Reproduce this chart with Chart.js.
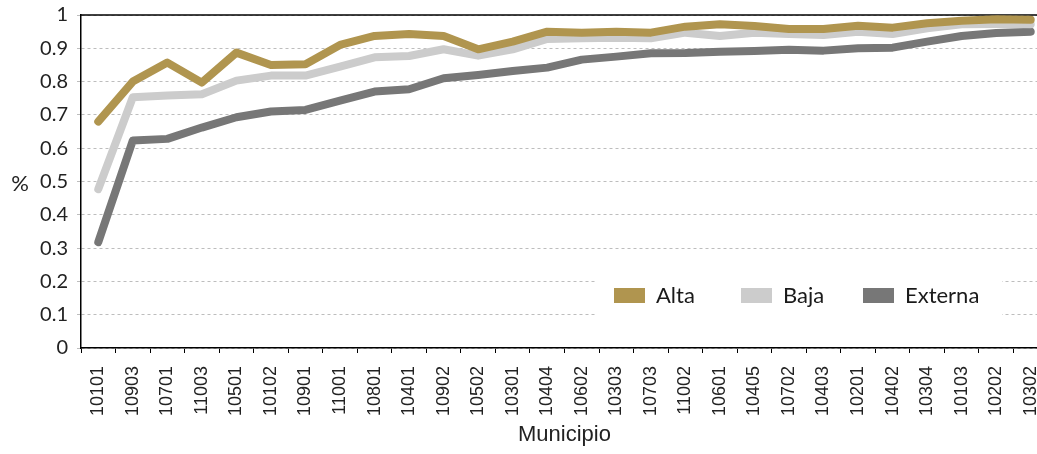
<!DOCTYPE html>
<html>
<head>
<meta charset="utf-8">
<script src="https://cdn.jsdelivr.net/npm/chart.js@4"></script>
<style>
  html, body { margin: 0; padding: 0; background: #fff; overflow: hidden; width: 1037px; height: 454px; }
  #contenedor { width: 1048px; height: 454px; }
</style>
</head>
<body>
<div id="contenedor"><canvas id="grafico"></canvas></div>
<script>
// Municipios ordenados de menor a mayor
const municipios = ['10101', '10903', '10701', '11003', '10501', '10102', '10901', '11001', '10801', '10401',
    '10902', '10502', '10301', '10404', '10602', '10303', '10703', '11002', '10601', '10405',
    '10702', '10403', '10201', '10402', '10304', '10103', '10202', '10302'];

const alta = [0.68, 0.80, 0.857, 0.797, 0.887, 0.85, 0.852, 0.91, 0.937, 0.943,
    0.937, 0.897, 0.92, 0.95, 0.947, 0.95, 0.947, 0.965, 0.972, 0.967,
    0.958, 0.958, 0.968, 0.962, 0.975, 0.983, 0.987, 0.986];

const baja = [0.477, 0.753, 0.758, 0.762, 0.803, 0.818, 0.818, 0.845, 0.873, 0.877,
    0.897, 0.878, 0.897, 0.928, 0.93, 0.932, 0.93, 0.947, 0.937, 0.947,
    0.943, 0.94, 0.95, 0.943, 0.96, 0.972, 0.973, 0.972];

const externa = [0.318, 0.623, 0.628, 0.662, 0.693, 0.71, 0.715, 0.743, 0.77, 0.777,
    0.81, 0.82, 0.832, 0.842, 0.866, 0.875, 0.885, 0.886, 0.89, 0.892,
    0.896, 0.893, 0.9, 0.902, 0.92, 0.937, 0.946, 0.95];

const colores = ['#b0954f', '#cccccc', '#777777'];
const series = ['Alta', 'Baja', 'Externa'];

const fuenteClara = 'Lato';
const fuenteEjes = 'Liberation Sans';

function serie(label, data, color) {
    return {
        label: label,
        data: data,
        borderColor: color,
        backgroundColor: color,
        borderWidth: 8,
        pointRadius: 0,
        tension: 0,
        borderCapStyle: 'round',
        borderJoinStyle: 'round'
    };
}

// sin márgenes extra por las etiquetas de los extremos
function sinRelleno(scale) {
    scale.paddingLeft = 0;
    scale.paddingRight = 0;
    scale.paddingTop = 0;
    scale.paddingBottom = 0;
}

// Borde superior, leyenda con fondo blanco y el "%" del eje
const extras = {
    id: 'extras',
    beforeDatasetsDraw(chart) {
        const { ctx, chartArea } = chart;
        ctx.save();
        // línea superior del marco
        ctx.strokeStyle = '#000';
        ctx.lineWidth = 1.5;
        ctx.beginPath();
        ctx.moveTo(chartArea.left, chartArea.top);
        ctx.lineTo(chartArea.right, chartArea.top);
        ctx.stroke();

        // caja de la leyenda
        const base = chartArea.bottom;
        ctx.fillStyle = '#fff';
        ctx.fillRect(chartArea.left + 514, base - 90, 407, 78);

        const posiciones = [533, 660, 782];
        ctx.font = '22px ' + fuenteClara;
        ctx.textBaseline = 'middle';
        ctx.textAlign = 'left';
        chart.data.datasets.forEach((ds, i) => {
            const x = chartArea.left + posiciones[i];
            const y = base - 60;
            ctx.fillStyle = ds.borderColor;
            ctx.fillRect(x, y, 31, 15);
            ctx.fillStyle = '#1a1a1a';
            ctx.fillText(ds.label, x + 42, y + 8);
        });

        // título del eje Y
        ctx.font = '22px ' + fuenteClara;
        ctx.textAlign = 'center';
        ctx.fillStyle = '#222';
        ctx.fillText('%', 20, (chartArea.top + chartArea.bottom) / 2 + 2);
        ctx.restore();
    }
};

const ctx = document.getElementById('grafico').getContext('2d');
new Chart(ctx, {
    type: 'line',
    data: {
        labels: municipios,
        datasets: [
            serie(series[0], alta, colores[0]),
            serie(series[1], baja, colores[1]),
            serie(series[2], externa, colores[2])
        ]
    },
    options: {
        responsive: true,
        maintainAspectRatio: false,
        animation: false,
        layout: { padding: { top: 15, right: 0, bottom: 0, left: 0 } },
        plugins: {
            legend: { display: false },
            tooltip: { enabled: false }
        },
        scales: {
            x: {
                offset: true,
                grid: { display: true, drawOnChartArea: false, offset: true, color: '#000', tickLength: 5 },
                border: { color: '#000', width: 1.5 },
                ticks: {
                    autoSkip: false,
                    minRotation: 90,
                    maxRotation: 90,
                    padding: 13,
                    color: '#222',
                    font: { family: fuenteEjes, size: 18 }
                },
                title: {
                    display: true,
                    text: 'Municipio',
                    color: '#222',
                    font: { family: fuenteEjes, size: 22 },
                    padding: { top: 0, bottom: 6 }
                },
                afterFit(scale) {
                    sinRelleno(scale);
                    scale.height = 106;
                }
            },
            y: {
                min: 0,
                max: 1,
                ticks: {
                    stepSize: 0.1,
                    padding: 9,
                    color: '#222',
                    font: { family: fuenteClara, size: 20 },
                    callback: v => String(+v.toFixed(1))
                },
                grid: { color: '#bdbdbd', lineWidth: 1, tickLength: 4 },
                border: { color: '#000', width: 1.5, dash: [3, 3] },
                afterFit(scale) {
                    sinRelleno(scale);
                    scale.width = 81;
                }
            }
        }
    },
    plugins: [extras]
});
</script>
</body>
</html>
